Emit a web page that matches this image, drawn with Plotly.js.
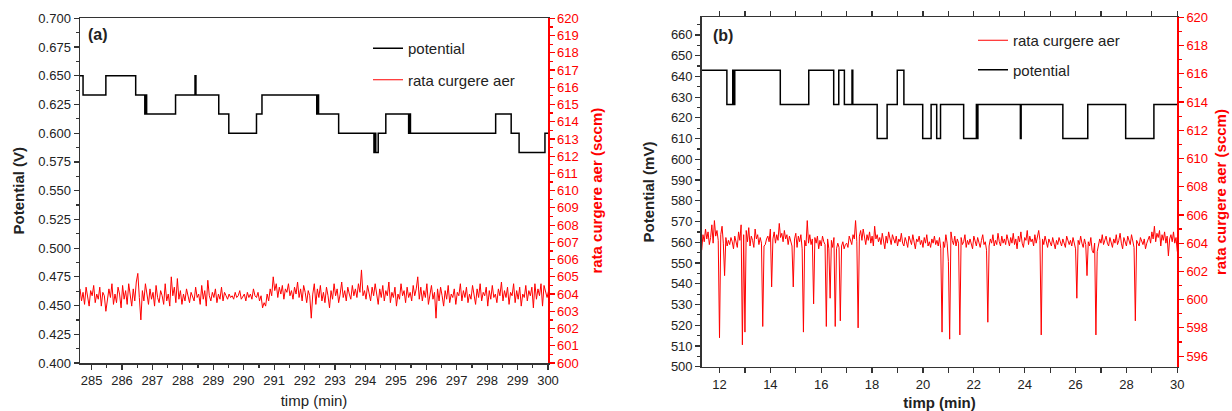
<!DOCTYPE html>
<html>
<head>
<meta charset="utf-8">
<script src="https://cdn.plot.ly/plotly-3.0.1.min.js"></script>
<style>html,body{margin:0;padding:0;background:#fff;}#chart{width:1232px;height:411px;}</style>
</head>
<body>
<div id="chart"></div>
<script>
// ---------- Panel (a) ----------
// potential (V): step change points (time in min, value in V)
const potA_t = [284.62, 284.72, 285.47, 286.45, 286.75, 286.78, 286.81, 287.76, 288.40, 288.43, 289.18, 289.51, 290.42, 290.60, 292.40, 292.43, 292.46, 293.12, 294.28, 294.31, 294.34, 294.42, 294.67, 295.42, 295.45, 295.48, 298.28, 298.79, 299.05, 299.90, 300.00];
const potA_v = [0.650, 0.6333, 0.650, 0.6333, 0.6167, 0.6333, 0.6167, 0.6333, 0.650, 0.6333, 0.6167, 0.600, 0.6167, 0.6333, 0.6167, 0.6333, 0.6167, 0.600, 0.5833, 0.600, 0.5833, 0.600, 0.6167, 0.600, 0.6167, 0.600, 0.6167, 0.600, 0.5833, 0.600, 0.600];
// air flow rate (sccm), sampled every 0.05 min from 284.62 min
const flowA_start = 284.62, flowA_step = 0.05;
const flowA = [
604.3,603.6,604.1,603.4,604.4,603.8,603.3,604.2,603.9,604.5,603.5,604.0,603.7,604.4,603.3,604.1,603.9,603.0,603.6,604.3,
603.8,604.6,603.4,604.0,603.5,604.4,604.0,603.2,604.5,603.7,604.2,603.4,604.6,603.9,603.3,604.3,603.6,604.7,605.2,603.8,
602.5,604.2,603.6,604.6,603.9,603.4,604.3,603.7,604.1,603.3,604.5,603.8,603.5,604.2,603.9,603.4,604.6,603.6,604.0,603.3,
605.0,603.9,604.4,603.5,604.9,603.7,604.2,603.4,604.0,603.6,604.3,603.8,603.5,604.1,603.9,603.6,604.4,603.8,604.0,603.4,
604.5,603.7,604.2,603.3,604.8,603.9,603.6,604.1,603.8,604.3,603.5,604.0,603.7,604.4,603.6,604.1,603.9,603.7,604.0,603.8,
603.9,603.7,604.1,603.8,603.9,604.2,603.7,603.9,604.0,603.6,604.1,603.8,604.0,603.7,604.3,603.9,603.8,604.1,603.6,603.9,
603.2,603.5,603.3,604.0,603.6,604.3,603.9,605.0,604.2,604.6,603.8,604.4,604.0,604.5,603.7,604.3,604.1,604.6,603.9,604.2,
603.7,604.4,604.0,604.7,603.8,604.3,603.6,604.5,604.1,603.5,604.2,603.9,602.6,604.0,604.6,603.4,604.3,603.8,604.5,603.6,
604.1,603.5,604.4,603.9,603.2,604.2,603.7,604.6,603.9,604.3,603.5,604.0,604.7,603.8,604.2,603.6,604.4,604.0,603.7,604.5,
603.9,604.3,603.8,604.6,604.1,605.4,603.9,604.2,603.7,604.5,604.0,603.6,604.4,603.9,604.6,604.1,603.4,604.3,603.8,604.5,
603.6,604.2,603.9,604.7,603.5,604.1,603.8,604.4,603.3,604.0,603.7,604.6,603.9,604.2,603.5,604.4,603.8,604.1,603.6,604.5,
603.9,604.3,605.0,603.7,604.4,603.6,604.2,603.8,604.6,603.4,604.0,604.5,603.7,604.1,602.6,604.3,603.6,604.4,603.9,603.3,
604.2,603.7,604.5,603.5,604.0,603.8,604.3,603.4,604.1,603.9,604.6,603.6,604.2,603.8,604.4,603.5,604.0,603.7,604.5,603.9,
603.4,604.3,603.8,604.6,603.6,604.1,603.9,604.4,603.3,604.2,603.7,604.5,603.8,604.0,603.5,604.3,603.9,604.7,603.6,604.2,
603.8,604.4,603.4,604.1,603.9,604.6,603.5,604.2,603.7,604.4,603.3,604.0,603.8,604.5,603.6,604.2,603.9,604.4,603.2,604.6,
603.7,604.3,603.9,604.6,603.3,604.5,604.1,603.8,604.2];

// ---------- Panel (b) ----------
// potential (mV): step change points
const potB_t = [11.30, 12.29, 12.52, 12.56, 12.60, 14.39, 15.51, 16.49, 16.69, 16.91, 17.21, 17.24, 18.20, 18.59, 18.99, 19.25, 19.99, 20.32, 20.54, 20.69, 21.60, 22.10, 22.13, 22.16, 23.83, 23.86, 25.50, 26.48, 27.97, 29.08, 30.00];
const potB_v = [643, 626.5, 643, 626.5, 643, 626.5, 643, 626.5, 643, 626.5, 643, 626.5, 610, 626.5, 643, 626.5, 610, 626.5, 610, 626.5, 610, 626.5, 610, 626.5, 610, 626.5, 610, 626.5, 610, 626.5, 626.5];
// air flow rate (sccm), sampled every 0.05 min from 11.3 min
const flowB_start = 11.3, flowB_step = 0.05;
const flowB = [
603.5,604.6,604.1,605.0,604.3,604.8,603.9,604.4,605.3,604.0,605.6,604.5,604.9,604.2,597.3,604.6,605.2,604.0,601.7,604.4,
603.8,604.2,603.9,604.4,604.1,603.6,604.5,604.0,603.7,604.8,604.2,605.3,596.8,604.6,597.7,604.9,604.1,605.1,603.8,604.5,
604.2,603.7,605.0,604.3,604.6,603.9,604.4,604.0,598.1,603.8,603.9,604.3,604.5,604.1,605.0,600.9,604.3,604.8,604.0,604.6,
604.2,605.4,604.4,604.7,604.1,604.9,604.3,604.6,603.9,604.5,604.2,603.8,600.9,604.3,604.7,603.7,604.5,604.1,604.6,603.6,
597.7,604.2,603.8,605.6,604.0,604.6,603.9,604.3,599.7,604.4,604.0,604.5,603.6,604.2,603.8,604.5,604.1,603.9,598.1,604.3,
603.6,600.1,604.2,603.7,604.4,598.1,603.6,604.0,603.7,598.5,603.8,604.1,603.6,603.9,604.0,603.7,604.5,604.2,603.9,604.6,
604.3,605.6,604.1,598.0,604.5,604.9,604.2,605.0,604.4,603.9,604.6,604.2,604.8,604.0,604.5,603.8,605.2,604.3,604.6,604.1,
604.4,603.9,604.7,604.2,603.6,604.5,604.0,604.8,604.3,603.9,604.6,604.2,604.0,604.5,603.8,604.3,604.1,604.7,604.0,603.8,
604.4,604.1,603.7,604.5,604.2,603.9,604.6,604.0,603.6,604.3,604.1,604.5,603.9,604.2,603.7,604.4,604.0,604.6,603.8,604.1,
603.7,604.3,604.0,604.5,603.9,604.2,603.8,604.4,603.6,597.7,604.1,603.7,604.6,604.0,602.7,597.2,604.8,604.2,603.9,604.5,
603.8,604.3,604.0,597.5,604.4,603.9,604.1,604.6,603.7,604.2,603.9,604.3,604.0,603.6,604.5,604.1,603.8,604.4,604.0,603.7,
604.2,604.6,603.9,604.1,603.5,598.4,603.8,604.3,604.0,604.6,603.8,604.2,603.9,604.7,604.1,603.8,604.5,604.0,604.3,603.9,
604.6,604.1,603.8,604.4,604.0,604.7,603.9,604.3,603.6,604.5,604.1,604.8,604.0,603.7,604.4,604.2,604.9,603.9,604.5,604.1,
604.3,603.8,604.6,604.0,604.4,604.9,604.2,597.5,604.3,603.9,604.5,604.0,603.7,604.3,604.1,603.8,604.4,604.0,603.6,604.2,
603.9,604.4,604.1,603.8,604.3,604.0,603.7,604.5,604.1,603.9,604.2,603.8,604.4,604.0,603.6,600.1,604.2,603.9,604.5,604.0,
603.7,604.3,603.9,601.7,604.1,603.8,604.4,603.5,603.3,604.0,597.5,603.4,603.8,604.3,604.0,604.6,603.9,604.2,604.5,604.0,
603.8,604.4,604.1,603.7,604.3,604.0,604.6,603.9,604.2,604.7,604.0,603.6,604.4,604.1,603.8,604.5,604.2,603.9,604.6,604.1,
603.7,598.5,604.2,604.0,603.8,604.4,604.1,603.9,604.3,603.6,604.0,604.2,604.5,604.0,604.8,604.3,605.2,604.1,604.7,604.4,
604.9,603.8,604.6,604.2,604.8,604.0,604.5,603.1,604.3,604.6,604.1,604.8,604.0,604.4,603.4];

const names = {pot: 'potential', flow: 'rata curgere aer'};
const FONT = 'Liberation Sans, Arial, Helvetica, sans-serif';
const W = 1232, H = 411;
const px = v => v / W;
const py = v => (H - v) / H;

const traces = [
  {x: potA_t, y: potA_v, xaxis: 'x', yaxis: 'y', type: 'scatter', mode: 'lines', line: {color: '#000', width: 1.5, shape: 'hv'}, name: names.pot, legend: 'legend', legendgroup: 'a1'},
  {y: flowA, x0: flowA_start, dx: flowA_step, xaxis: 'x', yaxis: 'y2', type: 'scatter', mode: 'lines', line: {color: '#ff0000', width: 1}, name: names.flow, legend: 'legend', legendgroup: 'a2'},
  {y: flowB, x0: flowB_start, dx: flowB_step, xaxis: 'x2', yaxis: 'y4', type: 'scatter', mode: 'lines', line: {color: '#ff0000', width: 1}, name: names.flow, legend: 'legend2', legendgroup: 'b1'},
  {x: potB_t, y: potB_v, xaxis: 'x2', yaxis: 'y3', type: 'scatter', mode: 'lines', line: {color: '#000', width: 1.5, shape: 'hv'}, name: names.pot, legend: 'legend2', legendgroup: 'b2'}
];

const tickF = {family: FONT, size: 13, color: '#222'};
const redF = {family: FONT, size: 13, color: '#ff0000'};
const baseAx = {showgrid: false, zeroline: false, showline: true, linewidth: 1.5, ticks: 'outside', ticklen: 5, tickwidth: 1.2, fixedrange: true};

const layout = {
  width: W, height: H,
  margin: {l: 0, r: 0, t: 0, b: 0},
  paper_bgcolor: '#fff', plot_bgcolor: '#fff',
  font: {family: FONT, size: 13, color: '#222'},
  showlegend: true,
  xaxis: Object.assign({}, baseAx, {
    domain: [px(80), px(548)], anchor: 'y', range: [284.62, 300], tick0: 285, dtick: 1,
    linecolor: '#333', tickcolor: '#333', tickfont: tickF, mirror: true,
    minor: {dtick: 0.5, tick0: 285, ticks: 'outside', ticklen: 3, tickcolor: '#333'},
    title: {text: 'timp (min)', font: {family: FONT, size: 15, color: '#222'}, standoff: 8}
  }),
  yaxis: Object.assign({}, baseAx, {
    domain: [py(363), py(18.3)], anchor: 'x', range: [0.4, 0.7], tick0: 0.4, dtick: 0.025, tickformat: '.3f',
    linecolor: '#333', tickcolor: '#333', tickfont: tickF,
    minor: {dtick: 0.0125, tick0: 0.4, ticks: 'outside', ticklen: 3, tickcolor: '#333'},
    title: {text: 'Potential (V)', font: {family: FONT, size: 15, color: '#222', weight: 'bold'}, standoff: 10}
  }),
  yaxis2: Object.assign({}, baseAx, {
    overlaying: 'y', side: 'right', anchor: 'x', range: [600, 620], tick0: 600, dtick: 1,
    linecolor: '#ff0000', tickcolor: '#ff0000', tickfont: redF,
    minor: {dtick: 0.5, tick0: 600, ticks: 'outside', ticklen: 3, tickcolor: '#ff0000'},
    title: {text: 'rata curgere aer (sccm)', font: {family: FONT, size: 15, color: '#ff0000', weight: 'bold'}, standoff: 13}
  }),
  xaxis2: Object.assign({}, baseAx, {
    domain: [px(701.7), px(1177.3)], anchor: 'y3', range: [11.3, 30], tick0: 12, dtick: 2,
    linecolor: '#333', tickcolor: '#333', tickfont: tickF, mirror: 'allticks',
    minor: {dtick: 1, tick0: 12, ticks: 'outside', ticklen: 3, tickcolor: '#333'},
    title: {text: 'timp (min)', font: {family: FONT, size: 15, color: '#222', weight: 'bold'}, standoff: 8}
  }),
  yaxis3: Object.assign({}, baseAx, {
    domain: [py(366.7), py(17.3)], anchor: 'x2', range: [500, 668.5], tick0: 500, dtick: 10,
    linecolor: '#333', tickcolor: '#333', tickfont: tickF,
    minor: {dtick: 5, tick0: 500, ticks: 'outside', ticklen: 3, tickcolor: '#333'},
    title: {text: 'Potential (mV)', font: {family: FONT, size: 15, color: '#222', weight: 'bold'}, standoff: 12}
  }),
  yaxis4: Object.assign({}, baseAx, {
    overlaying: 'y3', side: 'right', anchor: 'x2', range: [595.25, 620], tick0: 596, dtick: 2,
    linecolor: '#ff0000', tickcolor: '#ff0000', tickfont: redF,
    minor: {dtick: 1, tick0: 596, ticks: 'outside', ticklen: 3, tickcolor: '#ff0000'},
    title: {text: 'rata curgere aer (sccm)', font: {family: FONT, size: 15, color: '#ff0000', weight: 'bold'}, standoff: 8}
  }),
  legend: {x: px(368), y: py(32), xanchor: 'left', yanchor: 'top', bgcolor: 'rgba(0,0,0,0)', borderwidth: 0,
    font: {family: FONT, size: 15, color: '#222'}, tracegroupgap: 9, traceorder: 'grouped'},
  legend2: {x: px(973), y: py(24), xanchor: 'left', yanchor: 'top', bgcolor: 'rgba(0,0,0,0)', borderwidth: 0,
    font: {family: FONT, size: 15, color: '#222'}, tracegroupgap: 7, traceorder: 'grouped'},
  annotations: [
    {xref: 'paper', yref: 'paper', x: px(86), y: py(34), xanchor: 'left', yanchor: 'middle', showarrow: false, text: '(a)', font: {family: FONT, size: 16, color: '#222', weight: 'bold'}},
    {xref: 'paper', yref: 'paper', x: px(711), y: py(35), xanchor: 'left', yanchor: 'middle', showarrow: false, text: '(b)', font: {family: FONT, size: 16, color: '#222', weight: 'bold'}}
  ]
};

Plotly.newPlot('chart', traces, layout, {displayModeBar: false, staticPlot: true});
</script>
</body>
</html>
